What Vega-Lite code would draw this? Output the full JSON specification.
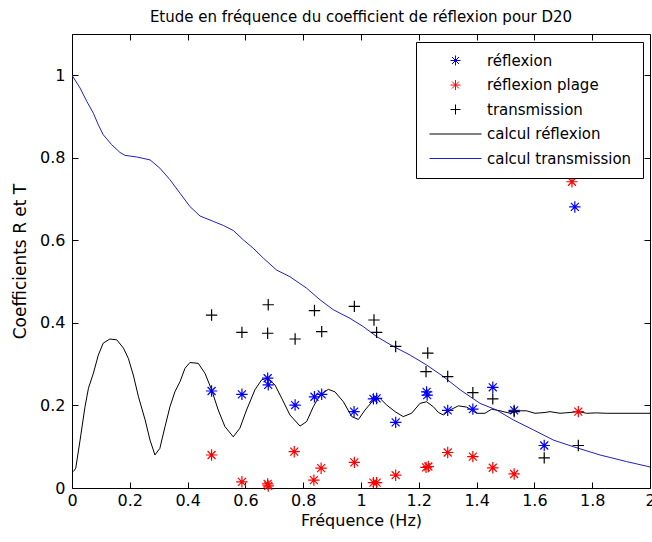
{
  "$schema": "https://vega.github.io/schema/vega-lite/v6.json",
  "width": 578,
  "height": 454,
  "autosize": {"type": "none"},
  "padding": {"left": 72, "top": 34, "right": 2, "bottom": 54},
  "background": "white",
  "title": {"text": "Etude en fréquence du coefficient de réflexion pour D20", "font": "DejaVu Sans", "fontSize": 15, "fontWeight": "normal", "color": "black", "offset": 9},
  "config": {
    "view": {"stroke": "black", "strokeWidth": 1},
    "axis": {"domain": false, "grid": false, "tickColor": "black", "tickSize": -6, "labelFont": "DejaVu Sans", "labelFontSize": 16, "labelColor": "black", "titleFont": "DejaVu Sans", "titleFontSize": 16, "titleFontWeight": "normal", "titleColor": "black", "labelOverlap": false, "labelBound": false, "labelFlush": false},
    "legend": {"orient": "none", "legendX": 344, "legendY": 8, "strokeColor": "black", "fillColor": "white", "padding": 11, "labelFont": "DejaVu Sans", "labelFontSize": 15, "labelColor": "black", "symbolSize": 100, "symbolOffset": 21, "rowPadding": 8.5, "labelOffset": 24, "title": null, "symbolStrokeWidth": 1}
  },
  "datasets": {
    "pts": [
      {"series": "réflexion", "f": 0.483, "v": 0.235},
      {"series": "réflexion", "f": 0.588, "v": 0.227},
      {"series": "réflexion", "f": 0.677, "v": 0.266},
      {"series": "réflexion", "f": 0.679, "v": 0.250},
      {"series": "réflexion", "f": 0.772, "v": 0.201},
      {"series": "réflexion", "f": 0.839, "v": 0.221},
      {"series": "réflexion", "f": 0.864, "v": 0.227},
      {"series": "réflexion", "f": 0.976, "v": 0.185},
      {"series": "réflexion", "f": 1.043, "v": 0.216},
      {"series": "réflexion", "f": 1.054, "v": 0.217},
      {"series": "réflexion", "f": 1.120, "v": 0.159},
      {"series": "réflexion", "f": 1.227, "v": 0.233},
      {"series": "réflexion", "f": 1.229, "v": 0.225},
      {"series": "réflexion", "f": 1.300, "v": 0.188},
      {"series": "réflexion", "f": 1.387, "v": 0.191},
      {"series": "réflexion", "f": 1.456, "v": 0.244},
      {"series": "réflexion", "f": 1.530, "v": 0.188},
      {"series": "réflexion", "f": 1.634, "v": 0.103},
      {"series": "réflexion", "f": 1.740, "v": 0.681},
      {"series": "réflexion plage", "f": 0.483, "v": 0.080},
      {"series": "réflexion plage", "f": 0.588, "v": 0.015},
      {"series": "réflexion plage", "f": 0.677, "v": 0.010},
      {"series": "réflexion plage", "f": 0.679, "v": 0.005},
      {"series": "réflexion plage", "f": 0.769, "v": 0.088},
      {"series": "réflexion plage", "f": 0.837, "v": 0.019},
      {"series": "réflexion plage", "f": 0.862, "v": 0.048},
      {"series": "réflexion plage", "f": 0.977, "v": 0.062},
      {"series": "réflexion plage", "f": 1.043, "v": 0.013},
      {"series": "réflexion plage", "f": 1.054, "v": 0.013},
      {"series": "réflexion plage", "f": 1.120, "v": 0.031},
      {"series": "réflexion plage", "f": 1.225, "v": 0.050},
      {"series": "réflexion plage", "f": 1.233, "v": 0.052},
      {"series": "réflexion plage", "f": 1.300, "v": 0.086},
      {"series": "réflexion plage", "f": 1.387, "v": 0.076},
      {"series": "réflexion plage", "f": 1.456, "v": 0.049},
      {"series": "réflexion plage", "f": 1.530, "v": 0.034},
      {"series": "réflexion plage", "f": 1.752, "v": 0.185},
      {"series": "réflexion plage", "f": 1.730, "v": 0.742},
      {"series": "transmission", "f": 0.483, "v": 0.419},
      {"series": "transmission", "f": 0.588, "v": 0.377},
      {"series": "transmission", "f": 0.679, "v": 0.444},
      {"series": "transmission", "f": 0.677, "v": 0.375},
      {"series": "transmission", "f": 0.772, "v": 0.361},
      {"series": "transmission", "f": 0.839, "v": 0.430},
      {"series": "transmission", "f": 0.864, "v": 0.379},
      {"series": "transmission", "f": 0.977, "v": 0.440},
      {"series": "transmission", "f": 1.045, "v": 0.407},
      {"series": "transmission", "f": 1.054, "v": 0.377},
      {"series": "transmission", "f": 1.120, "v": 0.343},
      {"series": "transmission", "f": 1.231, "v": 0.327},
      {"series": "transmission", "f": 1.225, "v": 0.282},
      {"series": "transmission", "f": 1.300, "v": 0.270},
      {"series": "transmission", "f": 1.387, "v": 0.231},
      {"series": "transmission", "f": 1.456, "v": 0.216},
      {"series": "transmission", "f": 1.530, "v": 0.185},
      {"series": "transmission", "f": 1.634, "v": 0.073},
      {"series": "transmission", "f": 1.752, "v": 0.103}
    ],
    "curves": [
      {"series": "calcul réflexion", "f": 0.005, "v": 0.040},
      {"series": "calcul réflexion", "f": 0.013, "v": 0.048},
      {"series": "calcul réflexion", "f": 0.028, "v": 0.116},
      {"series": "calcul réflexion", "f": 0.045, "v": 0.197},
      {"series": "calcul réflexion", "f": 0.057, "v": 0.242},
      {"series": "calcul réflexion", "f": 0.074, "v": 0.278},
      {"series": "calcul réflexion", "f": 0.091, "v": 0.322},
      {"series": "calcul réflexion", "f": 0.108, "v": 0.351},
      {"series": "calcul réflexion", "f": 0.131, "v": 0.361},
      {"series": "calcul réflexion", "f": 0.155, "v": 0.359},
      {"series": "calcul réflexion", "f": 0.178, "v": 0.339},
      {"series": "calcul réflexion", "f": 0.195, "v": 0.314},
      {"series": "calcul réflexion", "f": 0.212, "v": 0.274},
      {"series": "calcul réflexion", "f": 0.230, "v": 0.221},
      {"series": "calcul réflexion", "f": 0.253, "v": 0.165},
      {"series": "calcul réflexion", "f": 0.270, "v": 0.116},
      {"series": "calcul réflexion", "f": 0.287, "v": 0.080},
      {"series": "calcul réflexion", "f": 0.304, "v": 0.096},
      {"series": "calcul réflexion", "f": 0.322, "v": 0.149},
      {"series": "calcul réflexion", "f": 0.339, "v": 0.197},
      {"series": "calcul réflexion", "f": 0.356, "v": 0.233},
      {"series": "calcul réflexion", "f": 0.374, "v": 0.258},
      {"series": "calcul réflexion", "f": 0.391, "v": 0.290},
      {"series": "calcul réflexion", "f": 0.408, "v": 0.304},
      {"series": "calcul réflexion", "f": 0.437, "v": 0.302},
      {"series": "calcul réflexion", "f": 0.460, "v": 0.278},
      {"series": "calcul réflexion", "f": 0.483, "v": 0.238},
      {"series": "calcul réflexion", "f": 0.506, "v": 0.189},
      {"series": "calcul réflexion", "f": 0.529, "v": 0.149},
      {"series": "calcul réflexion", "f": 0.558, "v": 0.124},
      {"series": "calcul réflexion", "f": 0.581, "v": 0.145},
      {"series": "calcul réflexion", "f": 0.604, "v": 0.189},
      {"series": "calcul réflexion", "f": 0.633, "v": 0.238},
      {"series": "calcul réflexion", "f": 0.656, "v": 0.262},
      {"series": "calcul réflexion", "f": 0.676, "v": 0.266},
      {"series": "calcul réflexion", "f": 0.702, "v": 0.250},
      {"series": "calcul réflexion", "f": 0.726, "v": 0.217},
      {"series": "calcul réflexion", "f": 0.754, "v": 0.177},
      {"series": "calcul réflexion", "f": 0.789, "v": 0.150},
      {"series": "calcul réflexion", "f": 0.812, "v": 0.161},
      {"series": "calcul réflexion", "f": 0.835, "v": 0.197},
      {"series": "calcul réflexion", "f": 0.858, "v": 0.225},
      {"series": "calcul réflexion", "f": 0.887, "v": 0.239},
      {"series": "calcul réflexion", "f": 0.910, "v": 0.233},
      {"series": "calcul réflexion", "f": 0.939, "v": 0.209},
      {"series": "calcul réflexion", "f": 0.968, "v": 0.173},
      {"series": "calcul réflexion", "f": 0.991, "v": 0.166},
      {"series": "calcul réflexion", "f": 1.014, "v": 0.189},
      {"series": "calcul réflexion", "f": 1.043, "v": 0.213},
      {"series": "calcul réflexion", "f": 1.066, "v": 0.217},
      {"series": "calcul réflexion", "f": 1.089, "v": 0.201},
      {"series": "calcul réflexion", "f": 1.118, "v": 0.185},
      {"series": "calcul réflexion", "f": 1.146, "v": 0.173},
      {"series": "calcul réflexion", "f": 1.175, "v": 0.181},
      {"series": "calcul réflexion", "f": 1.204, "v": 0.205},
      {"series": "calcul réflexion", "f": 1.227, "v": 0.209},
      {"series": "calcul réflexion", "f": 1.250, "v": 0.197},
      {"series": "calcul réflexion", "f": 1.268, "v": 0.183},
      {"series": "calcul réflexion", "f": 1.285, "v": 0.177},
      {"series": "calcul réflexion", "f": 1.308, "v": 0.189},
      {"series": "calcul réflexion", "f": 1.337, "v": 0.199},
      {"series": "calcul réflexion", "f": 1.366, "v": 0.196},
      {"series": "calcul réflexion", "f": 1.400, "v": 0.181},
      {"series": "calcul réflexion", "f": 1.429, "v": 0.181},
      {"series": "calcul réflexion", "f": 1.452, "v": 0.191},
      {"series": "calcul réflexion", "f": 1.481, "v": 0.187},
      {"series": "calcul réflexion", "f": 1.516, "v": 0.181},
      {"series": "calcul réflexion", "f": 1.544, "v": 0.187},
      {"series": "calcul réflexion", "f": 1.573, "v": 0.187},
      {"series": "calcul réflexion", "f": 1.602, "v": 0.181},
      {"series": "calcul réflexion", "f": 1.637, "v": 0.183},
      {"series": "calcul réflexion", "f": 1.654, "v": 0.185},
      {"series": "calcul réflexion", "f": 1.689, "v": 0.181},
      {"series": "calcul réflexion", "f": 1.723, "v": 0.183},
      {"series": "calcul réflexion", "f": 1.752, "v": 0.185},
      {"series": "calcul réflexion", "f": 1.781, "v": 0.181},
      {"series": "calcul réflexion", "f": 1.815, "v": 0.182},
      {"series": "calcul réflexion", "f": 1.850, "v": 0.181},
      {"series": "calcul réflexion", "f": 2.000, "v": 0.181},
      {"series": "calcul transmission", "f": 0.000, "v": 1.000},
      {"series": "calcul transmission", "f": 0.028, "v": 0.969},
      {"series": "calcul transmission", "f": 0.051, "v": 0.937},
      {"series": "calcul transmission", "f": 0.074, "v": 0.908},
      {"series": "calcul transmission", "f": 0.091, "v": 0.880},
      {"series": "calcul transmission", "f": 0.108, "v": 0.856},
      {"series": "calcul transmission", "f": 0.137, "v": 0.832},
      {"series": "calcul transmission", "f": 0.166, "v": 0.813},
      {"series": "calcul transmission", "f": 0.183, "v": 0.806},
      {"series": "calcul transmission", "f": 0.224, "v": 0.802},
      {"series": "calcul transmission", "f": 0.270, "v": 0.795},
      {"series": "calcul transmission", "f": 0.304, "v": 0.775},
      {"series": "calcul transmission", "f": 0.339, "v": 0.747},
      {"series": "calcul transmission", "f": 0.374, "v": 0.714},
      {"series": "calcul transmission", "f": 0.408, "v": 0.682},
      {"series": "calcul transmission", "f": 0.443, "v": 0.659},
      {"series": "calcul transmission", "f": 0.489, "v": 0.646},
      {"series": "calcul transmission", "f": 0.524, "v": 0.636},
      {"series": "calcul transmission", "f": 0.558, "v": 0.624},
      {"series": "calcul transmission", "f": 0.593, "v": 0.601},
      {"series": "calcul transmission", "f": 0.627, "v": 0.581},
      {"series": "calcul transmission", "f": 0.662, "v": 0.557},
      {"series": "calcul transmission", "f": 0.708, "v": 0.528},
      {"series": "calcul transmission", "f": 0.754, "v": 0.512},
      {"series": "calcul transmission", "f": 0.812, "v": 0.484},
      {"series": "calcul transmission", "f": 0.858, "v": 0.456},
      {"series": "calcul transmission", "f": 0.904, "v": 0.432},
      {"series": "calcul transmission", "f": 0.962, "v": 0.411},
      {"series": "calcul transmission", "f": 1.008, "v": 0.391},
      {"series": "calcul transmission", "f": 1.054, "v": 0.367},
      {"series": "calcul transmission", "f": 1.112, "v": 0.343},
      {"series": "calcul transmission", "f": 1.170, "v": 0.322},
      {"series": "calcul transmission", "f": 1.227, "v": 0.298},
      {"series": "calcul transmission", "f": 1.285, "v": 0.270},
      {"series": "calcul transmission", "f": 1.343, "v": 0.238},
      {"series": "calcul transmission", "f": 1.412, "v": 0.205},
      {"series": "calcul transmission", "f": 1.469, "v": 0.189},
      {"series": "calcul transmission", "f": 1.527, "v": 0.165},
      {"series": "calcul transmission", "f": 1.596, "v": 0.141},
      {"series": "calcul transmission", "f": 1.666, "v": 0.116},
      {"series": "calcul transmission", "f": 1.735, "v": 0.100},
      {"series": "calcul transmission", "f": 1.827, "v": 0.080},
      {"series": "calcul transmission", "f": 1.919, "v": 0.064},
      {"series": "calcul transmission", "f": 2.000, "v": 0.051}
    ]
  },
  "layer": [
    {
      "data": {"name": "curves"},
      "mark": {"type": "line", "strokeWidth": 1, "clip": true},
      "encoding": {
        "x": {"field": "f", "type": "quantitative", "scale": {"domain": [0, 2], "nice": false, "zero": false},
              "axis": {"orient": "bottom", "values": [0, 0.2, 0.4, 0.6, 0.8, 1, 1.2, 1.4, 1.6, 1.8, 2], "format": "~g", "labelPadding": 10, "title": "Fréquence (Hz)", "titlePadding": 4}},
        "y": {"field": "v", "type": "quantitative", "scale": {"domain": [0, 1.1], "nice": false, "zero": false},
              "axis": {"orient": "left", "values": [0, 0.2, 0.4, 0.6, 0.8, 1], "format": "~g", "labelPadding": 13, "title": "Coefficients R et T", "titleFontSize": 17, "titlePadding": 10}},
        "color": {"field": "series", "type": "nominal",
                  "scale": {"domain": ["réflexion", "réflexion plage", "transmission", "calcul réflexion", "calcul transmission"], "range": ["#0000ff", "#ff0000", "#000000", "#000000", "#1f1fc8"]}}
      }
    },
    {
      "data": {"name": "pts"},
      "mark": {"type": "point", "filled": false, "strokeWidth": 1.2, "size": 130, "opacity": 1},
      "encoding": {
        "x": {"field": "f", "type": "quantitative", "axis": {"orient": "top", "values": [0, 0.2, 0.4, 0.6, 0.8, 1, 1.2, 1.4, 1.6, 1.8, 2], "labels": false, "title": null}},
        "y": {"field": "v", "type": "quantitative", "axis": {"orient": "right", "values": [0, 0.2, 0.4, 0.6, 0.8, 1], "labels": false, "title": null}},
        "color": {"field": "series", "type": "nominal"},
        "shape": {"field": "series", "type": "nominal",
                  "scale": {"domain": ["réflexion", "réflexion plage", "transmission", "calcul réflexion", "calcul transmission"], "range": ["M-1,0L1,0M0,-1L0,1M-0.7,-0.7L0.7,0.7M-0.7,0.7L0.7,-0.7", "M-1,0L1,0M0,-1L0,1M-0.7,-0.7L0.7,0.7M-0.7,0.7L0.7,-0.7", "M-1,0L1,0M0,-1L0,1", "M-5.2,0L5.2,0", "M-5.2,0L5.2,0"]}}
      }
    }
  ],
  "resolve": {"axis": {"x": "independent", "y": "independent"}}
}
